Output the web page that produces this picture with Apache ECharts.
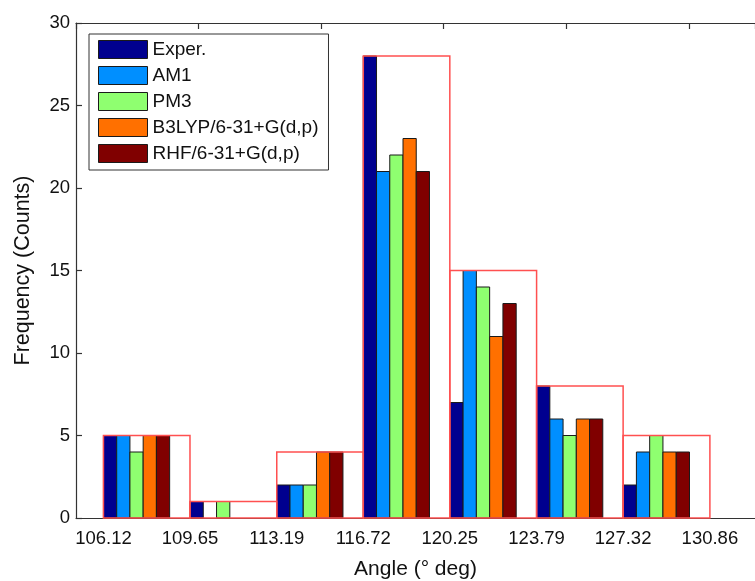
<!DOCTYPE html>
<html>
<head>
<meta charset="utf-8">
<script src="https://cdn.jsdelivr.net/npm/echarts@6/dist/echarts.min.js"></script>
<style>
html,body{margin:0;padding:0;background:#fff;}
#chart{width:755px;height:581px;}
</style>
</head>
<body>
<div id="chart"></div>
<script>
// Bin edges (x axis tick labels)
const edges = [106.12, 109.65, 113.19, 116.72, 120.25, 123.79, 127.32, 130.86];
const edgeLabels = ['106.12', '109.65', '113.19', '116.72', '120.25', '123.79', '127.32', '130.86'];
const seriesNames = ['Exper.', 'AM1', 'PM3', 'B3LYP/6-31+G(d,p)', 'RHF/6-31+G(d,p)'];
const exper = [5, 1, 2, 28, 7, 8, 2];
const am1   = [5, 0, 2, 21, 15, 6, 4];
const pm3   = [4, 1, 2, 22, 14, 5, 5];
const b3lyp = [5, 0, 4, 23, 11, 6, 4];
const rhf   = [5, 0, 4, 21, 13, 6, 4];
const colors = ['#00008f', '#008fff', '#8fff70', '#ff7000', '#800000'];

const allSeries = [exper, am1, pm3, b3lyp, rhf];
const envelope = exper.map((_, b) => Math.max(...allSeries.map(s => s[b])));
const barFrac = 0.153;
const FONT = '"Liberation Sans", Arial, sans-serif';

function barRender(i) {
  return function (params, api) {
    const e0 = api.value(0), v = api.value(1), e1 = api.value(2);
    if (!v) return null;
    const w = (e1 - e0) * barFrac;
    const x0 = e0 + w * i;
    const p0 = api.coord([x0, v]);
    const p1 = api.coord([x0 + w, 0]);
    return {
      type: 'rect',
      shape: { x: p0[0], y: p0[1], width: p1[0] - p0[0], height: p1[1] - p0[1] },
      style: { fill: colors[i], stroke: '#1a1a1a', lineWidth: 1 }
    };
  };
}

const series = allSeries.map((arr, i) => ({
  name: seriesNames[i],
  type: 'custom',
  xAxisIndex: 0,
  yAxisIndex: 0,
  itemStyle: { color: colors[i] },
  renderItem: barRender(i),
  data: arr.map((v, b) => [edges[b], v, edges[b + 1]]),
  z: 2
}));

series.push({
  name: 'envelope',
  type: 'custom',
  xAxisIndex: 0,
  yAxisIndex: 0,
  renderItem: function (params, api) {
    const e0 = api.value(0), v = api.value(1), e1 = api.value(2);
    const p0 = api.coord([e0, v]);
    const p1 = api.coord([e1, 0]);
    return {
      type: 'rect',
      shape: { x: p0[0], y: p0[1], width: p1[0] - p0[0], height: p1[1] - p0[1] },
      style: { fill: 'none', stroke: '#ff5050', lineWidth: 1.5 }
    };
  },
  data: envelope.map((v, b) => [edges[b], v, edges[b + 1]]),
  z: 3,
  silent: true
});

const chart = echarts.init(document.getElementById('chart'));
chart.setOption({
  animation: false,
  backgroundColor: '#ffffff',
  grid: { left: 76, top: 23, right: 0, bottom: 63, containLabel: false, outerBoundsMode: 'none' },
  legend: {
    data: seriesNames,
    orient: 'vertical',
    left: 89,
    top: 34,
    padding: [6, 10, 7, 9],
    itemWidth: 49,
    itemHeight: 18,
    itemGap: 7,
    icon: 'rect',
    borderColor: '#333',
    borderWidth: 1,
    backgroundColor: '#fff',
    itemStyle: { borderColor: '#1a1a1a', borderWidth: 1 },
    textStyle: { fontFamily: FONT, fontSize: 19, color: '#111' }
  },
  xAxis: [{
    type: 'value',
    position: 'bottom',
    min: 105,
    max: 132.7,
    name: 'Angle (° deg)',
    nameLocation: 'middle',
    nameGap: 41,
    nameTextStyle: { fontFamily: FONT, fontSize: 21, color: '#111' },
    axisLine: { show: true, lineStyle: { color: '#333', width: 1.2 } },
    axisTick: { show: false },
    splitLine: { show: false },
    axisLabel: {
      customValues: edges,
      formatter: v => edgeLabels[edges.indexOf(v)],
      fontFamily: FONT, fontSize: 18.5, color: '#111', margin: 11
    }
  }, {
    type: 'value',
    position: 'top',
    min: 105,
    max: 132.7,
    interval: 5,
    axisLine: { show: true, onZero: false, lineStyle: { color: '#333', width: 1.2 } },
    axisTick: { show: true, inside: true, length: 6, lineStyle: { color: '#333', width: 1.2 } },
    axisLabel: { show: false },
    splitLine: { show: false }
  }],
  yAxis: [{
    type: 'value',
    min: 0,
    max: 30,
    interval: 5,
    name: 'Frequency (Counts)',
    nameLocation: 'middle',
    nameGap: 42,
    nameTextStyle: { fontFamily: FONT, fontSize: 21.5, color: '#111' },
    axisLine: { show: true, lineStyle: { color: '#333', width: 1.2 } },
    axisTick: { show: true, inside: true, length: 6, lineStyle: { color: '#333', width: 1.2 } },
    splitLine: { show: false },
    axisLabel: { fontFamily: FONT, fontSize: 18.5, color: '#111', margin: 6 }
  }],
  series: series
});
</script>
</body>
</html>
